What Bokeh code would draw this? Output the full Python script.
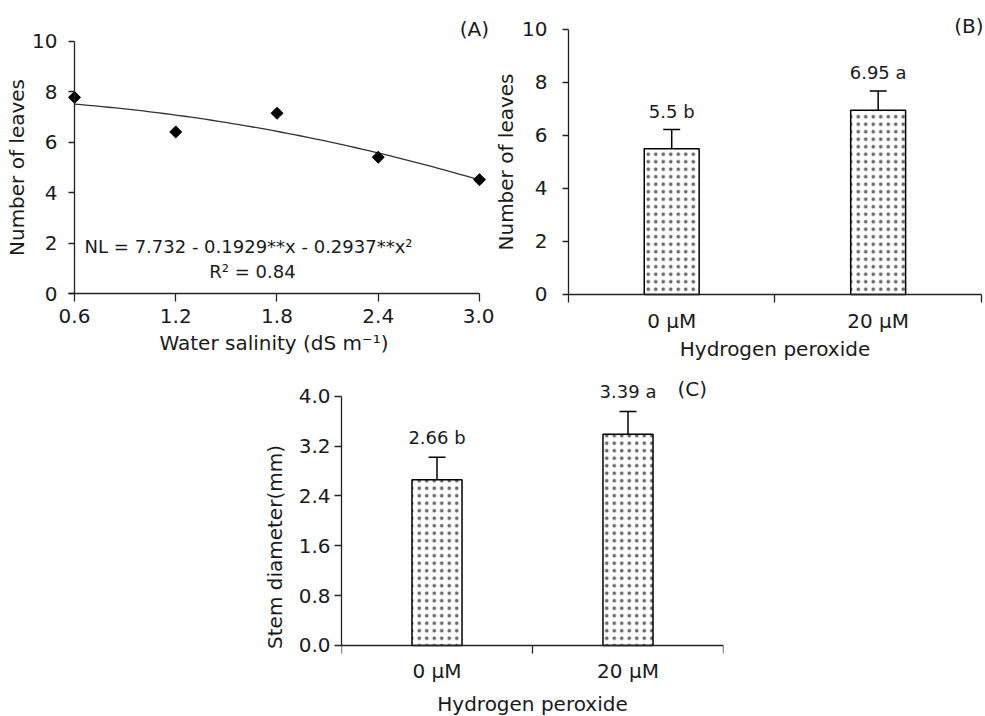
import numpy as np
from bokeh.plotting import figure
from bokeh.models import (Range1d, FixedTicker, Label, Whisker, TeeHead,
                          ColumnDataSource, Spacer, PrintfTickFormatter)
from bokeh.layouts import column, row
from bokeh.core.properties import value
from bokeh.embed import file_html
from bokeh.resources import INLINE

# ---------------- data ----------------
salinity = [0.6, 1.2, 1.8, 2.4, 3.0]
salinity_labels = ["0.6", "1.2", "1.8", "2.4", "3.0"]
leaves_by_salinity = [7.78, 6.41, 7.15, 5.41, 4.52]
fit_coef = [7.732, -0.1929, -0.2937]   # NL = a + b x + c x^2
leaves_ticks = [0, 2, 4, 6, 8, 10]

categories = ["0 µM", "20 µM"]
leaves_means = [5.5, 6.95]
leaves_err = [0.72, 0.73]
leaves_letters = ["b", "a"]

diameter_means = [2.66, 3.39]
diameter_err = [0.36, 0.365]
diameter_letters = ["b", "a"]
diameter_ticks = [0.0, 0.8, 1.6, 2.4, 3.2, 4.0]

FONT = "DejaVu Sans"
TXT = "#1a1a1a"
LINE = "#222222"


def base_style(p):
    p.grid.visible = False
    p.outline_line_color = None
    for ax in p.axis:
        ax.axis_line_color = LINE
        ax.axis_line_width = 1.3
        ax.major_tick_line_color = LINE
        ax.major_tick_line_width = 1.3
        ax.minor_tick_line_color = LINE
        ax.minor_tick_line_width = 1.3
        ax.major_tick_in = 0
        ax.minor_tick_in = 0
        ax.minor_tick_out = 0
        ax.major_label_text_font = FONT
        ax.major_label_text_font_size = "20px"
        ax.major_label_text_color = TXT
        ax.axis_label_text_font = FONT
        ax.axis_label_text_font_size = "20px"
        ax.axis_label_text_font_style = "normal"
        ax.axis_label_text_color = TXT


# ---------------- panel A ----------------
pA = figure(width=494, height=364, x_range=Range1d(0.1852, 3.0889), y_range=Range1d(-2.72, 11.1),
            output_backend="svg", toolbar_location=None,
            min_border_left=4, min_border_right=0, min_border_top=13, min_border_bottom=2)
base_style(pA)
pA.xaxis.ticker = FixedTicker(ticks=salinity)
pA.xaxis.major_label_overrides = {s: l for s, l in zip(salinity, salinity_labels)}
pA.xaxis.bounds = (0.564, 3.0)
pA.xaxis.fixed_location = 0
pA.xaxis.major_tick_out = 8
pA.xaxis.major_label_standoff = 7
pA.xaxis.axis_label = "Water salinity (dS m⁻¹)"
pA.xaxis.axis_label_standoff = 5
pA.yaxis.ticker = FixedTicker(ticks=leaves_ticks)
pA.yaxis.bounds = (0, 10)
pA.yaxis.fixed_location = salinity[0]
pA.yaxis.major_tick_out = 6
pA.yaxis.major_label_standoff = 11
pA.yaxis.axis_label = "Number of leaves"
pA.yaxis.axis_label_standoff = 0

xfit = np.linspace(salinity[0], salinity[-1], 60)
yfit = fit_coef[0] + fit_coef[1] * xfit + fit_coef[2] * xfit ** 2
pA.line(xfit, yfit, line_color="#333333", line_width=1.3)
pA.scatter(salinity, leaves_by_salinity, marker="square", size=8.5, angle=np.pi / 4,
           fill_color="black", line_color="black")
pA.add_layout(Label(x=0.66, y=1.89, text="NL = 7.732  - 0.1929**x - 0.2937**x²",
                    text_baseline="middle", text_align="left", text_font=FONT,
                    text_font_size="18px", text_color=TXT))
pA.add_layout(Label(x=1.655, y=0.9, text="R² = 0.84", text_baseline="middle",
                    text_align="center", text_font=FONT, text_font_size="18px", text_color=TXT))
pA.add_layout(Label(x=2.97, y=10.5, text="(A)", text_baseline="middle", text_align="center",
                    text_font=FONT, text_font_size="20px", text_color=TXT))


def bar_panel(p, means, errs, letters, bar_width, text_offset):
    xs = [i + 0.5 for i in range(len(categories))]
    src = ColumnDataSource(dict(
        x=xs, top=means,
        upper=[m + e for m, e in zip(means, errs)],
        lower=[m - e for m, e in zip(means, errs)],
        label=[f"{m} {l}" for m, l in zip(means, letters)],
    ))
    p.vbar(x="x", top="top", width=bar_width, source=src, fill_color="white",
           line_color="black", line_width=1.5, hatch_pattern="dot", hatch_scale=7.5,
           hatch_color="#6a6a6a", hatch_weight=1)
    p.add_layout(Whisker(base="x", upper="upper", lower="lower", source=src,
                         line_color="black", line_width=1.5,
                         upper_head=TeeHead(size=17, line_color="black", line_width=1.5),
                         lower_head=TeeHead(size=17, line_color="black", line_width=1.5)))
    p.text(x="x", y="upper", text="label", source=src, text_align="center",
           text_baseline="middle", y_offset=-text_offset, text_font=value(FONT),
           text_font_size="18px", text_color=TXT)
    p.xaxis.ticker = FixedTicker(ticks=xs, minor_ticks=list(range(len(categories) + 1)))
    p.xaxis.major_label_overrides = {x: c for x, c in zip(xs, categories)}
    p.xaxis.bounds = (0, len(categories))
    p.xaxis.fixed_location = 0
    p.xaxis.major_tick_out = 0
    p.xaxis.minor_tick_out = 8
    p.xaxis.axis_label = "Hydrogen peroxide"


# ---------------- panel B ----------------
pB = figure(width=491, height=364, x_range=Range1d(-0.3584, 2.02), y_range=Range1d(-2.566, 10.6),
            output_backend="svg", toolbar_location=None,
            min_border_left=0, min_border_right=0, min_border_top=13, min_border_bottom=2)
base_style(pB)
bar_panel(pB, leaves_means, leaves_err, leaves_letters, 0.266, 18.5)
pB.xaxis.major_label_standoff = 7
pB.xaxis.axis_label_standoff = 0
pB.yaxis.ticker = FixedTicker(ticks=leaves_ticks)
pB.yaxis.bounds = (0, 10)
pB.yaxis.fixed_location = 0
pB.yaxis.major_tick_out = 6
pB.yaxis.major_label_standoff = 15
pB.yaxis.axis_label = "Number of leaves"
pB.yaxis.axis_label_standoff = 1
pB.add_layout(Label(x=1.94, y=10.13, text="(B)", text_baseline="middle", text_align="center",
                    text_font=FONT, text_font_size="20px", text_color=TXT))

# ---------------- panel C ----------------
pC = figure(width=483, height=352, x_range=Range1d(0, 2), y_range=Range1d(-1.1406, 4.3),
            output_backend="svg", toolbar_location=None,
            min_border_left=91, min_border_right=10, min_border_top=13, min_border_bottom=0)
base_style(pC)
bar_panel(pC, diameter_means, diameter_err, diameter_letters, 0.262, 19.5)
pC.xaxis.major_label_standoff = 6
pC.xaxis.axis_label_standoff = 5
pC.yaxis.ticker = FixedTicker(ticks=diameter_ticks)
pC.yaxis.formatter = PrintfTickFormatter(format="%.1f")
pC.yaxis.bounds = (0, 4.0)
pC.yaxis.major_tick_out = 7
pC.yaxis.major_label_standoff = 4
pC.yaxis.axis_label = "Stem diameter(mm)"
pC.yaxis.axis_label_standoff = 9
pC.add_layout(Label(x=1.836, y=4.11, text="(C)", text_baseline="middle", text_align="center",
                    text_font=FONT, text_font_size="20px", text_color=TXT))

layout = column(row(pA, pB), row(Spacer(width=250, height=352), pC))
open("out.html", "w").write(file_html(layout, INLINE))
